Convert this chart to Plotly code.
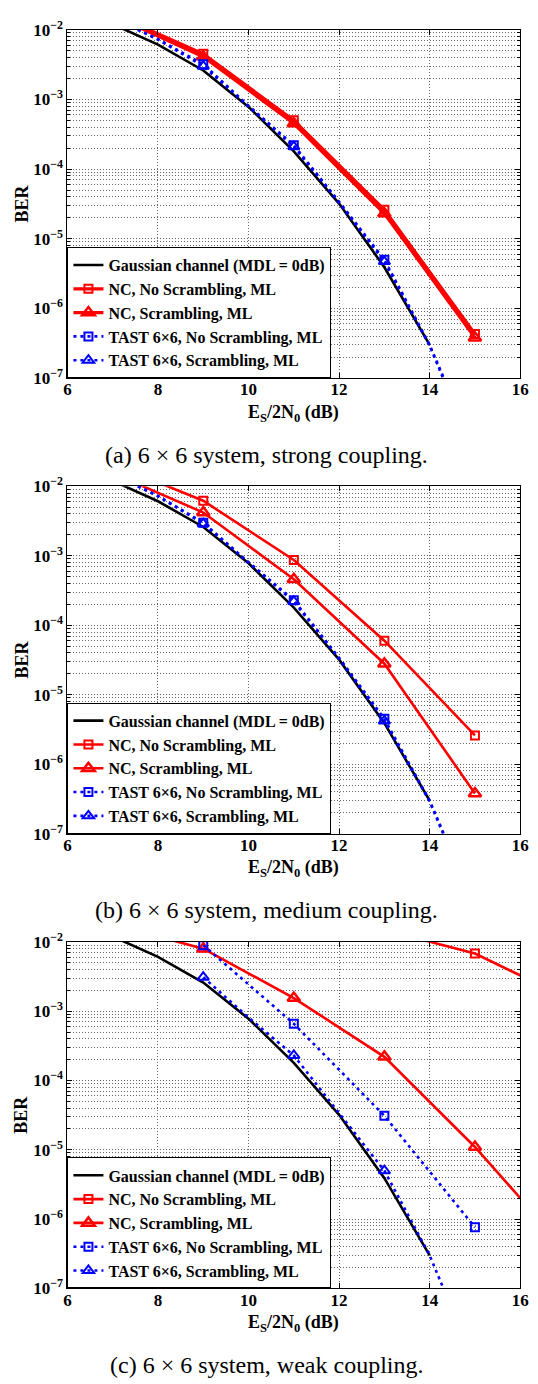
import plotly.graph_objects as go

# ---------------- data ----------------
snr_gauss = [6, 7, 8, 9, 10, 11, 12, 13, 14]
ber_gauss = [2.2e-2, 1.2e-2, 6.1e-3, 2.6e-3, 7.8e-4, 1.8e-4, 3.2e-5, 3.9e-6, 3.0e-7]

snr_nc = [7, 9, 11, 13, 15]
snr_tast = [7, 8, 9, 10, 11, 12, 13, 14, 15]

# (a) strong coupling
a_nc_noscr = [1.7e-2, 4.5e-3, 5.0e-4, 2.6e-5, 4.3e-7]
a_nc_scr = [1.6e-2, 4.1e-3, 4.5e-4, 2.3e-5, 3.8e-7]
a_tast_noscr = [1.5e-2, 7.3e-3, 3.2e-3, 8.1e-4, 2.2e-4, 3.4e-5, 5.0e-6, 3.0e-7, 9e-9]
a_tast_scr = [1.5e-2, 7.2e-3, 3.0e-3, 8.0e-4, 2.1e-4, 3.3e-5, 4.7e-6, 2.9e-7, 8e-9]

# (b) medium coupling
b_nc_noscr = [2.1e-2, 6.2e-3, 8.7e-4, 6.0e-5, 2.6e-6]
b_nc_scr = [1.55e-2, 4.2e-3, 4.6e-4, 2.8e-5, 3.8e-7]
b_tast_noscr = [1.5e-2, 7.3e-3, 3.0e-3, 8.1e-4, 2.3e-4, 3.4e-5, 4.5e-6, 3.0e-7, 9e-9]
b_tast_scr = [1.5e-2, 7.2e-3, 2.9e-3, 8.0e-4, 2.2e-4, 3.3e-5, 4.2e-6, 2.9e-7, 8e-9]

# (c) weak coupling
snr_c_nc = [7, 9, 11, 13, 15, 17]
c_nc_noscr = [9.0e-2, 5.5e-2, 2.9e-2, 1.5e-2, 6.8e-3, 1.6e-3]
c_nc_scr = [1.8e-2, 8.0e-3, 1.55e-3, 2.2e-4, 1.1e-5, 3.7e-7]
snr_c_tast_noscr = [9, 11, 13, 15]
c_tast_noscr = [9.0e-3, 6.6e-4, 3.1e-5, 7.6e-7]
snr_c_tast_scr = [9, 10, 11, 12, 13, 14, 15]
c_tast_scr = [3.1e-3, 8.1e-4, 2.3e-4, 3.4e-5, 5.0e-6, 3.0e-7, 8e-9]

x_ticks = [6, 8, 10, 12, 14, 16]
y_ticks = [1e-7, 1e-6, 1e-5, 1e-4, 1e-3, 1e-2]
y_ticktext = ["10<sup>−7</sup>", "10<sup>−6</sup>", "10<sup>−5</sup>", "10<sup>−4</sup>",
              "10<sup>−3</sup>", "10<sup>−2</sup>"]

names = ["Gaussian channel (MDL = 0dB)", "NC, No Scrambling, ML", "NC, Scrambling, ML",
         "TAST 6×6, No Scrambling, ML", "TAST 6×6, Scrambling, ML"]
captions = ["(a) 6 × 6 system, strong coupling.", "(b) 6 × 6 system, medium coupling.",
            "(c) 6 × 6 system, weak coupling."]

# ---------------- style / layout ----------------
W, H = 538, 1384
FONT = "Liberation Serif"
RED = "#ff0000"
BLUE = "#0000ff"
X0, X1 = 65, 529
panels_px = [(18, 372), (482, 835), (945, 1297)]
DOT = "3px,4px"
GRID = "#666"

minor_vals = [k * 10.0 ** e for e in range(-7, -2) for k in range(2, 10)]

panels = [
    dict(nc_x=snr_nc, nc_sq=a_nc_noscr, nc_tr=a_nc_scr,
         tsq_x=snr_tast, tsq=a_tast_noscr, ttr_x=snr_tast, ttr=a_tast_scr, redw=3.2),
    dict(nc_x=snr_nc, nc_sq=b_nc_noscr, nc_tr=b_nc_scr,
         tsq_x=snr_tast, tsq=b_tast_noscr, ttr_x=snr_tast, ttr=b_tast_scr, redw=2.6),
    dict(nc_x=snr_c_nc, nc_sq=c_nc_noscr, nc_tr=c_nc_scr,
         tsq_x=snr_c_tast_noscr, tsq=c_tast_noscr, ttr_x=snr_c_tast_scr, ttr=c_tast_scr, redw=2.6),
]


def odd_colors(xs, col):
    return [col if int(v) % 2 == 1 else "rgba(0,0,0,0)" for v in xs]


fig = go.Figure()
layout = dict(width=W, height=H, margin=dict(l=0, r=0, t=0, b=0), autosize=False,
              paper_bgcolor="white", plot_bgcolor="white", showlegend=True,
              font=dict(family=FONT, color="black"))
annotations = []
tickfont = dict(family=FONT, size=17, weight="bold", color="black")

for i, p in enumerate(panels):
    k = "" if i == 0 else str(i + 1)
    xa, ya = "x" + k, "y" + k
    lg = "legend" + k
    top, bot = panels_px[i]
    common = dict(xaxis=xa, yaxis=ya, legend=lg)

    fig.add_trace(go.Scatter(x=snr_gauss, y=ber_gauss, mode="lines", name=names[0],
                             line=dict(color="black", width=2.6), **common))
    fig.add_trace(go.Scatter(x=p["nc_x"], y=p["nc_sq"], mode="lines+markers", name=names[1],
                             line=dict(color=RED, width=p["redw"]),
                             marker=dict(symbol="square-open", size=8, color=RED,
                                         line=dict(width=2)), **common))
    fig.add_trace(go.Scatter(x=p["nc_x"], y=p["nc_tr"], mode="lines+markers", name=names[2],
                             line=dict(color=RED, width=p["redw"]),
                             marker=dict(symbol="triangle-up-open", size=11, color=RED,
                                         line=dict(width=2.5)), **common))
    fig.add_trace(go.Scatter(x=p["tsq_x"], y=p["tsq"], mode="lines+markers", name=names[3],
                             line=dict(color=BLUE, width=2.6, dash=DOT),
                             marker=dict(symbol="square-open", size=8,
                                         color=odd_colors(p["tsq_x"], BLUE),
                                         line=dict(width=2)), **common))
    fig.add_trace(go.Scatter(x=p["ttr_x"], y=p["ttr"], mode="lines+markers", name=names[4],
                             line=dict(color=BLUE, width=2.6, dash=DOT),
                             marker=dict(symbol="triangle-up-open", size=10,
                                         color=odd_colors(p["ttr_x"], BLUE),
                                         line=dict(width=2)), **common))

    dom_y = [1 - bot / H, 1 - top / H]
    layout["xaxis" + k] = dict(
        domain=[X0 / W, X1 / W], anchor=ya, range=[6, 16], tickvals=x_ticks,
        showgrid=True, gridcolor=GRID, griddash="1px,2px", gridwidth=1,
        showline=True, linecolor="black", linewidth=1, mirror="allticks",
        ticks="inside", ticklen=5, tickcolor="black", zeroline=False,
        tickfont=tickfont, ticklabelstandoff=-4,
    )
    layout["yaxis" + k] = dict(
        domain=dom_y, anchor=xa, type="log", range=[-7, -2],
        tickmode="array", tickvals=y_ticks, ticktext=y_ticktext,
        showgrid=True, gridcolor=GRID, griddash="1px,2px", gridwidth=1,
        showline=True, linecolor="black", linewidth=1, mirror="allticks",
        ticks="inside", ticklen=5, tickcolor="black", zeroline=False,
        tickfont=tickfont,
        minor=dict(tickmode="array", tickvals=minor_vals, showgrid=True,
                   gridcolor=GRID, griddash="1px,2px", gridwidth=1,
                   ticks="inside", ticklen=3, tickcolor="black"),
    )
    layout[lg] = dict(
        x=X0 / W, y=1 - bot / H, xanchor="left", yanchor="bottom",
        bgcolor="white", bordercolor="black", borderwidth=1,
        font=dict(family=FONT, size=16, weight="bold", color="black"),
        itemwidth=30, tracegroupgap=0, traceorder="normal",
    )
    # axis titles
    annotations.append(dict(text="<b>BER</b>", x=18 / W, y=1 - (top + bot) / 2 / H,
                            xref="paper", yref="paper", showarrow=False, textangle=-90,
                            font=dict(family=FONT, size=18, color="black"),
                            xanchor="center", yanchor="middle"))
    annotations.append(dict(text="<b>E<sub>S</sub>/2N<sub>0</sub> (dB)</b>",
                            x=(X0 + X1) / 2 / W, y=1 - (bot + 22) / H,
                            xref="paper", yref="paper", showarrow=False,
                            font=dict(family=FONT, size=18, color="black"),
                            xanchor="center", yanchor="top"))
    annotations.append(dict(text=captions[i], x=0.5, y=1 - (bot + 78) / H,
                            xref="paper", yref="paper", showarrow=False,
                            font=dict(family=FONT, size=24, color="black"),
                            xanchor="center", yanchor="middle"))

layout["annotations"] = annotations
fig.update_layout(**layout)
fig.write_html("out.html")
